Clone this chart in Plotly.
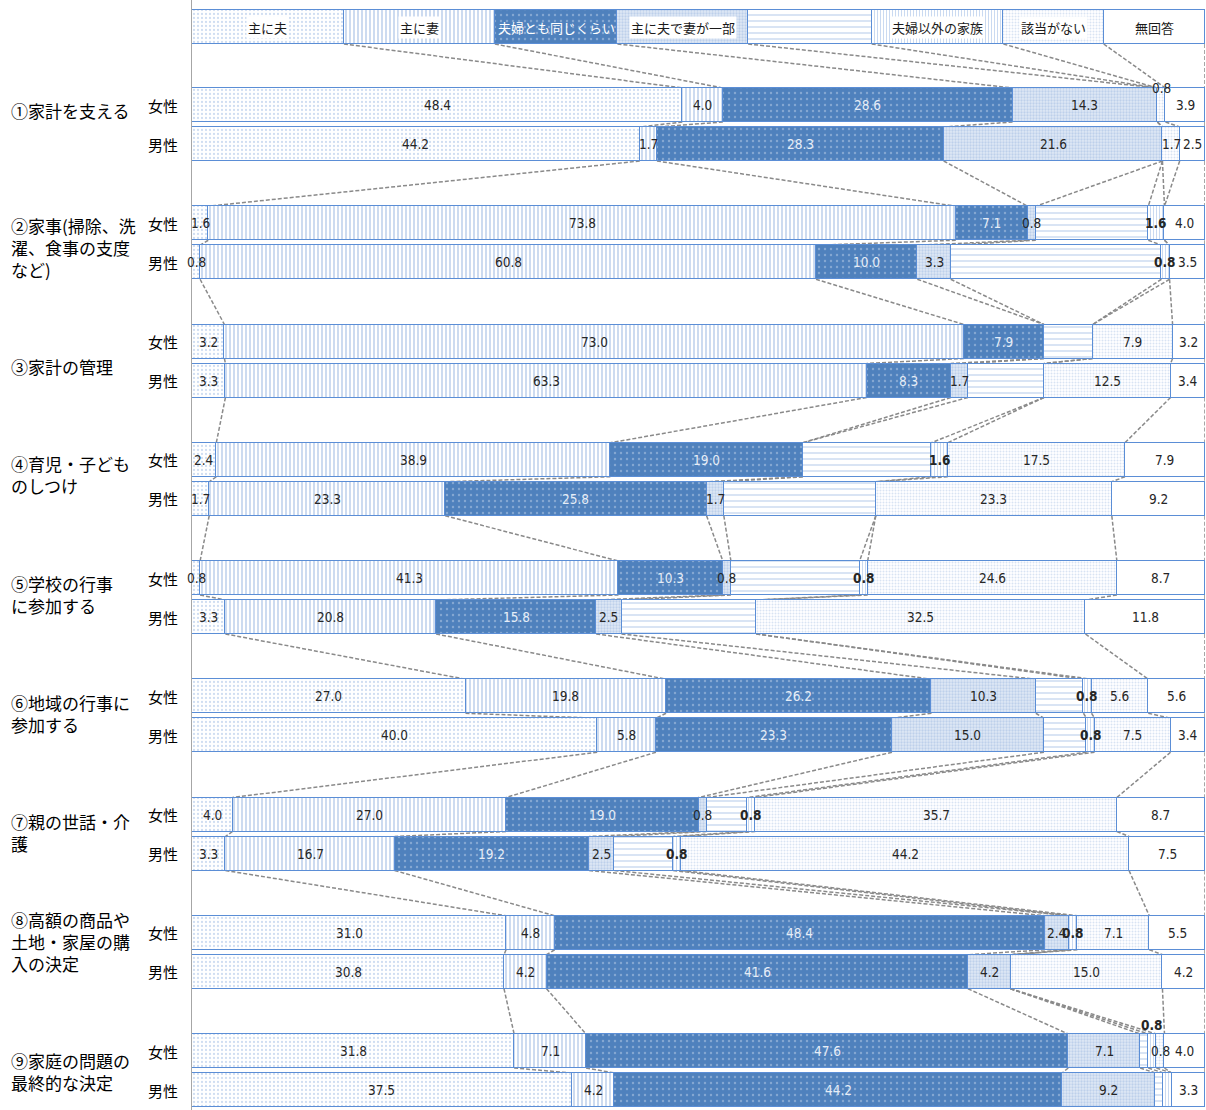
import plotly.graph_objects as go

# Survey: who mainly takes charge of each household role (%), women vs men
series_names = ["主に夫", "主に妻", "夫婦とも同じくらい", "主に夫で妻が一部",
                "", "夫婦以外の家族", "該当がない", "無回答"]

items = [
    "①家計を支える",
    "②家事(掃除、洗<br>濯、食事の支度<br>など)",
    "③家計の管理",
    "④育児・子ども<br>のしつけ",
    "⑤学校の行事<br>に参加する",
    "⑥地域の行事に<br>参加する",
    "⑦親の世話・介<br>護",
    "⑧高額の商品や<br>土地・家屋の購<br>入の決定",
    "⑨家庭の問題の<br>最終的な決定",
]
genders = ["女性", "男性"]

# one value per row: item1 女性, item1 男性, item2 女性, ...
husband_mainly = [48.4, 44.2, 1.6, 0.8, 3.2, 3.3, 2.4, 1.7, 0.8, 3.3,
                  27.0, 40.0, 4.0, 3.3, 31.0, 30.8, 31.8, 37.5]
wife_mainly = [4.0, 1.7, 73.8, 60.8, 73.0, 63.3, 38.9, 23.3, 41.3, 20.8,
               19.8, 5.8, 27.0, 16.7, 4.8, 4.2, 7.1, 4.2]
both_equally = [28.6, 28.3, 7.1, 10.0, 7.9, 8.3, 19.0, 25.8, 10.3, 15.8,
                26.2, 23.3, 19.0, 19.2, 48.4, 41.6, 47.6, 44.2]
husband_wife_part = [14.3, 21.6, 0.8, 3.3, 0.0, 1.7, 0.0, 1.7, 0.8, 2.5,
                     10.3, 15.0, 0.8, 2.5, 2.4, 4.2, 7.1, 9.2]
wife_husband_part = [0.0, 0.0, 11.1, 20.8, 4.8, 7.5, 12.7, 15.0, 12.7, 13.3,
                     4.7, 4.2, 4.0, 5.8, 0.0, 0.0, 0.8, 0.8]
other_family = [0.0, 0.0, 1.6, 0.8, 0.0, 0.0, 1.6, 0.0, 0.8, 0.0,
                0.8, 0.8, 0.8, 0.8, 0.8, 0.0, 0.8, 0.8]
not_applicable = [0.8, 1.7, 0.0, 0.0, 7.9, 12.5, 17.5, 23.3, 24.6, 32.5,
                  5.6, 7.5, 35.7, 44.2, 7.1, 15.0, 0.8, 0.0]
no_answer = [3.9, 2.5, 4.0, 3.5, 3.2, 3.4, 7.9, 9.2, 8.7, 11.8,
             5.6, 3.4, 8.7, 7.5, 5.5, 4.2, 4.0, 3.3]

# widths of the key boxes drawn as a bar above the data rows
key_share = [15.0, 14.9, 12.1, 12.9, 12.2, 13.0, 9.9, 10.0]

all_series = [husband_mainly, wife_mainly, both_equally, husband_wife_part,
              wife_husband_part, other_family, not_applicable, no_answer]

# ---- layout geometry (y axis runs in pixels, top = 0) ----
H = 1110
BAR_W = 34
KEY_Y = 27
row_y = []
for g in range(len(items)):
    fy = 105 + g * 118.25
    row_y += [fy, fy + 39]
item_text_dy = [5, 24, 25, 15, 16, 17, 18, 9, 20]

EDGE = "#5b8ed6"
styles = [
    dict(color="white", pattern=dict(shape=".", fgcolor="#9fbbe3", size=4, solidity=0.25, fillmode="overlay")),
    dict(color="white", pattern=dict(shape="|", fgcolor="#6f98d4", size=4, solidity=0.35, fillmode="overlay")),
    dict(color="#4f81bd", pattern=dict(shape=".", fgcolor="#b9cde8", size=6, solidity=0.12, fillmode="overlay")),
    dict(color="#dfe8f5", pattern=dict(shape=".", fgcolor="#9cb7df", size=3, solidity=0.45, fillmode="overlay")),
    dict(color="white", pattern=dict(shape="-", fgcolor="#7ea3d8", size=6, solidity=0.2, fillmode="overlay")),
    dict(color="white", pattern=dict(shape="|", fgcolor="#8aaee0", size=3, solidity=0.3, fillmode="overlay")),
    dict(color="white", pattern=dict(shape=".", fgcolor="#b3c8e8", size=3, solidity=0.35, fillmode="overlay")),
    dict(color="white"),
]

fig = go.Figure()
ys = [KEY_Y] + row_y
for k, (name, vals) in enumerate(zip(series_names, all_series)):
    xs = [key_share[k]] + [v if v > 0 else None for v in vals]
    fig.add_trace(go.Bar(
        x=xs, y=ys, orientation="h", width=BAR_W, name=name or " ",
        marker=dict(line=dict(color=EDGE, width=1.5), **styles[k]),
        showlegend=False, hoverinfo="skip",
    ))

NUM_FONT = "Liberation Sans Narrow, DejaVu Sans Condensed, Arial Narrow, sans-serif"
JP_FONT = "Noto Sans CJK JP, sans-serif"

ann = []
# key labels
cum = 0.0
for k, name in enumerate(series_names):
    mid = cum + key_share[k] / 2
    cum += key_share[k]
    if not name:
        continue
    on_dark = k == 2
    ann.append(dict(x=mid, y=KEY_Y, xref="x", yref="y", text=name, showarrow=False,
                    font=dict(family=JP_FONT, size=13, color="white" if on_dark else "#1a1a1a"),
                    bgcolor=None if on_dark else "white", borderpad=1))

# data labels (the unnamed series carries none)
label_shift = {(0, 6): -17, (16, 5): -26, (17, 5): 22}
for r, y in enumerate(row_y):
    cum = 0.0
    for k, vals in enumerate(all_series):
        v = vals[r]
        mid = cum + v / 2
        cum += v
        if v <= 0 or k == 4:
            continue
        ann.append(dict(
            x=mid, y=y + label_shift.get((r, k), 0), xref="x", yref="y",
            text=(f"<b>{v:.1f}</b>" if k == 5 else f"{v:.1f}"), showarrow=False,
            font=dict(family=NUM_FONT, size=13.5,
                      color="#e6edf7" if k == 2 else "#262626"),
        ))

# gender and item labels on the left
px = lambda p: (p - 192) / 1013
for r, y in enumerate(row_y):
    ann.append(dict(x=px(180), y=y, xref="paper", yref="y", text=genders[r % 2],
                    showarrow=False, xanchor="right",
                    font=dict(family=JP_FONT, size=15, color="#000000")))
for g, t in enumerate(items):
    ann.append(dict(x=px(9), y=row_y[2 * g] + item_text_dy[g], xref="paper", yref="y",
                    text=t, showarrow=False, xanchor="left", align="left",
                    font=dict(family=JP_FONT, size=17, color="#000000")))

# series lines joining the segment ends of consecutive bars
def edges(vals_list, idx):
    out, c = [], 0.0
    for vals in vals_list:
        c += vals[idx]
        out.append(c)
    return out

shapes = []
prev_edges = edges([[s] for s in key_share], 0)
prev_y = KEY_Y
for r, y in enumerate(row_y):
    cur_edges = edges(all_series, r)
    for a, b in zip(prev_edges, cur_edges):
        shapes.append(dict(type="line", xref="x", yref="y",
                           x0=a, y0=prev_y + BAR_W / 2, x1=b, y1=y - BAR_W / 2,
                           line=dict(color="#8a8a8a", width=1.5, dash="4px,2px"),
                           layer="below"))
    prev_edges, prev_y = cur_edges, y

fig.update_layout(
    width=1206, height=H, barmode="stack", bargap=0,
    margin=dict(l=192, r=1, t=0, b=0),
    paper_bgcolor="white", plot_bgcolor="white",
    xaxis=dict(range=[0, 100], visible=False, fixedrange=True),
    yaxis=dict(range=[H, 0], showticklabels=False, ticks="", showgrid=False,
               zeroline=False, showline=True, linecolor="#a6a6a6", linewidth=1,
               fixedrange=True),
    annotations=ann, shapes=shapes,
)

fig.write_html("out.html", config={"displayModeBar": False})
